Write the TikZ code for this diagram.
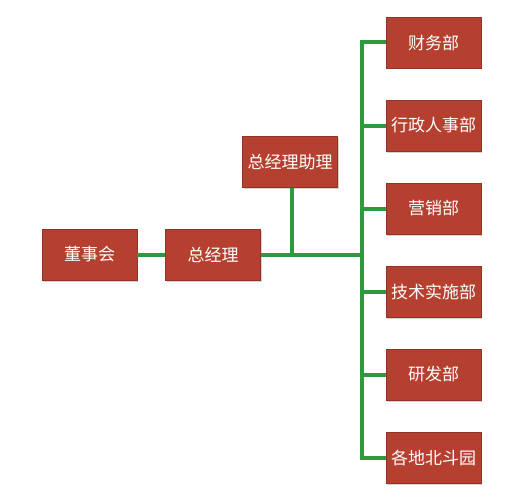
\documentclass[tikz,border=0pt]{standalone}
\usepackage{fontspec}
\newfontfamily\cjk{Noto Sans CJK SC}
\usetikzlibrary{shadows}
\definecolor{boxred}{RGB}{181,64,47}
\definecolor{linegreen}{RGB}{46,154,62}
\tikzset{
  orgbox/.style={draw=boxred!80!black, line width=0.4pt, fill=boxred, minimum width=95pt, minimum height=51pt,
    inner sep=0pt, text=white, font=\cjk\fontsize{17}{17}\selectfont,
    drop shadow={shadow xshift=1pt, shadow yshift=-1.5pt, opacity=0.35}},
  conn/.style={draw=linegreen, line width=4pt}
}
\begin{document}
\begin{tikzpicture}[x=1pt,y=-1pt]
\useasboundingbox (0,0) rectangle (518,500);
\node[orgbox] (dsh) at (89.5,254.5) {董事会};
\node[orgbox] (zjl) at (213,254.5) {总经理};
\node[orgbox] (zl) at (290,162) {总经理助理};
\node[orgbox] (cw) at (433.5,42.5) {财务部};
\node[orgbox] (xz) at (433.5,125.5) {行政人事部};
\node[orgbox] (yx) at (433.5,208.5) {营销部};
\node[orgbox] (js) at (433.5,291.5) {技术实施部};
\node[orgbox] (yf) at (433.5,374.5) {研发部};
\node[orgbox] (gd) at (433.5,457.5) {各地北斗园};
\coordinate (tt) at (362,42.5);
\coordinate (tb) at (362,457.5);
\coordinate (tm) at (362,254.5);
\coordinate (am) at (292,254.5);
\draw[conn] (dsh.east) -- (zjl.west);
\draw[conn] (zjl.east) -- (tm);
\draw[conn] (zl.south -| am) -- (am);
\draw[conn, line cap=rect] (tt) -- (tb);
\draw[conn] (tt) -- (cw.west);
\draw[conn] (362,125.5) -- (xz.west);
\draw[conn] (362,208.5) -- (yx.west);
\draw[conn] (362,291.5) -- (js.west);
\draw[conn] (362,374.5) -- (yf.west);
\draw[conn] (tb) -- (gd.west);
\end{tikzpicture}
\end{document}
